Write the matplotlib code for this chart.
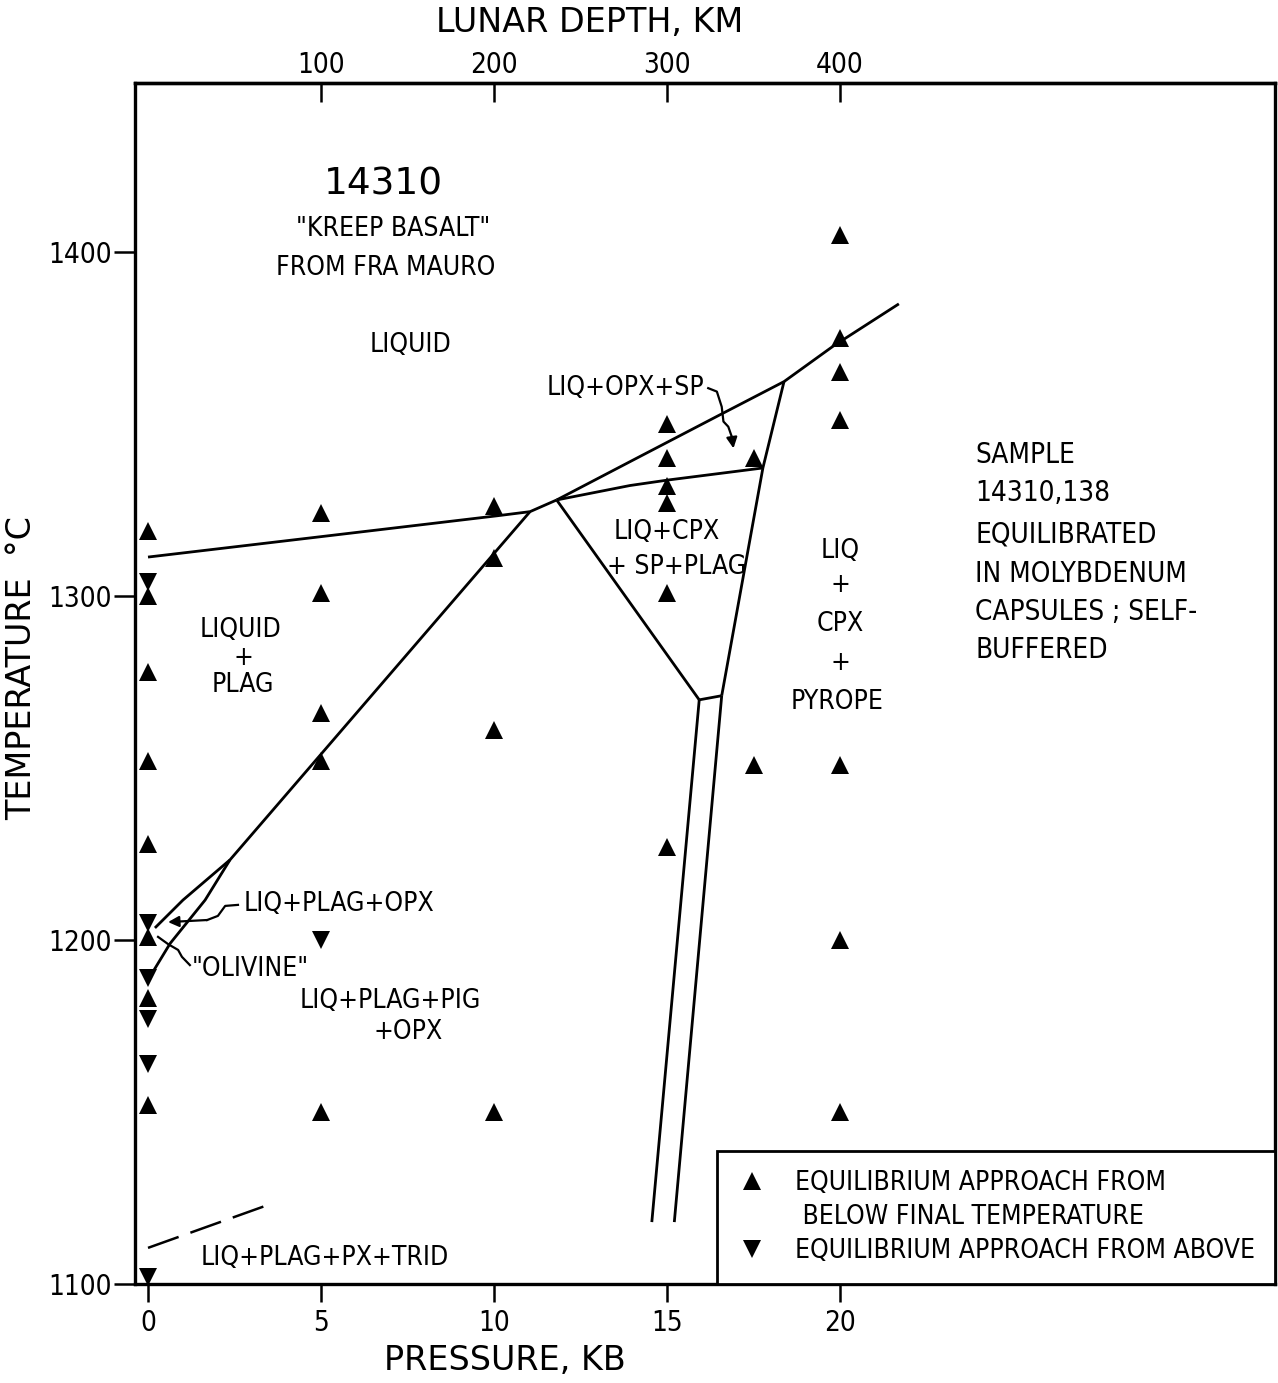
import matplotlib
matplotlib.use("Agg")
import matplotlib.pyplot as plt
from matplotlib import font_manager
from matplotlib.lines import Line2D

# ---------------- data ----------------
pressure_ticks = [0, 5, 10, 15, 20]
temp_ticks = [1100, 1200, 1300, 1400]
depth_ticks = [100, 200, 300, 400]

# runs approached from below final temperature (up triangles)
below_P = [0, 0, 0, 0, 0, 0, 0, 0,
           5, 5, 5, 5, 5,
           10, 10, 10, 10,
           15, 15, 15, 15, 15, 15,
           17.5, 17.5,
           20, 20, 20, 20, 20, 20, 20]
below_T = [1319, 1300, 1278, 1252, 1228, 1201, 1183, 1152,
           1324, 1301, 1266, 1252, 1150,
           1326, 1311, 1261, 1150,
           1350, 1340, 1332, 1327, 1301, 1227,
           1340, 1251,
           1405, 1375, 1365, 1351, 1251, 1200, 1150]

# runs approached from above (down triangles)
above_P = [0, 0, 0, 0, 0, 0, 5]
above_T = [1304, 1205, 1189, 1177, 1164, 1102, 1200]

# phase boundaries (P in kb, T in deg C)
liquidus_P = [0.0, 4.97, 10.09, 11.04, 11.81]
liquidus_T = [1311.3, 1317.2, 1323.3, 1324.5, 1327.9]

upper_P = [11.81, 14.0, 16.5, 18.38, 19.8, 21.7]
upper_T = [1327.9, 1339.4, 1352.5, 1362.3, 1372.6, 1384.9]

inner_P = [11.81, 13.93, 15.03, 17.77]
inner_T = [1327.9, 1332.1, 1333.7, 1337.2]

cpxleft_P = [11.81, 15.93]
cpxleft_T = [1327.9, 1269.8]

cpxbottom_P = [15.93, 16.58]
cpxbottom_T = [1269.8, 1271.0]

cpxright_P = [16.58, 17.77, 18.38]
cpxright_T = [1271.0, 1337.2, 1362.3]

garnetL_P = [15.93, 14.56]
garnetL_T = [1269.8, 1118.0]
garnetR_P = [16.58, 15.21]
garnetR_T = [1271.0, 1118.0]

plag_P = [0.2, 1.01, 2.37, 11.04]
plag_T = [1203.5, 1211.6, 1223.3, 1324.5]

opx_P = [2.37, 1.65, 0.64, 0.0]
opx_T = [1223.3, 1211.6, 1199.0, 1188.4]

trid_P = [0.0, 3.39]
trid_T = [1110.5, 1122.7]

# leader curves for labels
lead1_P = [16.19, 16.44, 16.58, 16.63, 16.77, 16.87]
lead1_T = [1360.4, 1359.4, 1355.0, 1350.7, 1349.2, 1346.3]
lead1_tip = (16.92, 1342.9)

lead2_P = [2.60, 2.23, 2.02, 1.71]
lead2_T = [1210.2, 1209.9, 1207.0, 1205.8]
lead2_tip = (0.58, 1205.2)

lead3_P = [1.21, 0.98, 0.87, 0.58, 0.29]
lead3_T = [1192.7, 1195.1, 1197.1, 1198.8, 1200.9]

# region labels: (text, P, T, ha)
region_labels = [
    ('"KREEP BASALT"', 7.08, 1406.7, 'center'),
    ('FROM FRA MAURO', 6.88, 1395.3, 'center'),
    ('LIQUID', 7.60, 1373.0, 'center'),
    ('LIQ+OPX+SP', 13.79, 1360.5, 'center'),
    ('LIQ+CPX', 15.0, 1318.6, 'center'),
    ('+ SP+PLAG', 15.29, 1308.4, 'center'),
    ('LIQ', 20.0, 1313.1, 'center'),
    ('+', 20.0, 1303.2, 'center'),
    ('CPX', 20.0, 1291.9, 'center'),
    ('+', 20.0, 1280.5, 'center'),
    ('PYROPE', 19.91, 1269.2, 'center'),
    ('LIQUID', 2.66, 1290.1, 'center'),
    ('+', 2.75, 1282.0, 'center'),
    ('PLAG', 2.75, 1274.1, 'center'),
    ('LIQ+PLAG+OPX', 2.75, 1210.5, 'left'),
    ('"OLIVINE"', 1.27, 1191.6, 'left'),
    ('LIQ+PLAG+PIG', 6.99, 1182.3, 'center'),
    ('+OPX', 7.51, 1173.3, 'center'),
    ('LIQ+PLAG+PX+TRID', 5.12, 1107.6, 'center'),
]

sample_lines = ['SAMPLE', '14310,138', 'EQUILIBRATED', 'IN MOLYBDENUM',
                'CAPSULES ; SELF-', 'BUFFERED']
sample_P = 23.9
sample_T = [1341.0, 1329.9, 1318.0, 1306.4, 1295.3, 1284.3]

legend_labels = ['EQUILIBRIUM APPROACH FROM', ' BELOW FINAL TEMPERATURE',
                 'EQUILIBRIUM APPROACH FROM ABOVE']

# ---------------- fonts ----------------
names = {f.name for f in font_manager.fontManager.ttflist}
if 'Liberation Sans Narrow' in names:
    NARROW = dict(family='Liberation Sans Narrow')
else:
    NARROW = dict(family='DejaVu Sans', stretch='condensed')
plt.rcParams['font.family'] = ['DejaVu Sans']

W, H = 1278, 1383
fig = plt.figure(figsize=(W / 100, H / 100), dpi=100)
ax = fig.add_axes([135 / W, 1 - 1284 / H, (1275 - 135) / W, (1284 - 83) / H])
ax.set_xlim(-0.376, 32.57)
ax.set_ylim(1100, 1449.1)

LW = 2.0
C = 'black'
for P, T in [(liquidus_P, liquidus_T), (upper_P, upper_T), (inner_P, inner_T),
             (cpxleft_P, cpxleft_T), (cpxbottom_P, cpxbottom_T),
             (cpxright_P, cpxright_T), (garnetL_P, garnetL_T),
             (garnetR_P, garnetR_T), (plag_P, plag_T), (opx_P, opx_T)]:
    ax.plot(P, T, color=C, lw=LW, solid_capstyle='butt', zorder=2)
ax.plot(trid_P, trid_T, color=C, lw=1.8, dashes=(13, 5), zorder=2)

# leaders
ax.plot(lead1_P, lead1_T, color=C, lw=1.6, zorder=2)
ax.annotate('', xy=lead1_tip, xytext=(lead1_P[-1], lead1_T[-1]),
            arrowprops=dict(arrowstyle='-|>', color=C, lw=1.6,
                            mutation_scale=16, shrinkA=0, shrinkB=0))
ax.plot(lead2_P, lead2_T, color=C, lw=1.6, zorder=2)
ax.annotate('', xy=lead2_tip, xytext=(lead2_P[-1], lead2_T[-1]),
            arrowprops=dict(arrowstyle='-|>', color=C, lw=1.6,
                            mutation_scale=16, shrinkA=0, shrinkB=0))
ax.plot(lead3_P, lead3_T, color=C, lw=1.6, zorder=2)

# data points
MS = 13
ax.plot(below_P, below_T, ls='none', marker='^', ms=MS, color=C, mew=0, zorder=3)
ax.plot(above_P, above_T, ls='none', marker='v', ms=MS, color=C, mew=0, zorder=3)

# labels
ax.text(6.79, 1419.5, '14310', fontsize=27, ha='center', va='center',
        family='DejaVu Sans')
for txt, p, t, ha in region_labels:
    ax.text(p, t, txt, fontsize=19, ha=ha, va='center', **NARROW)
for txt, t in zip(sample_lines, sample_T):
    ax.text(sample_P, t, txt, fontsize=20, ha='left', va='center', **NARROW)

# axes styling
for s in ax.spines.values():
    s.set_linewidth(2.4)
ax.set_xticks(pressure_ticks)
ax.set_yticks(temp_ticks)
ax.tick_params(axis='x', direction='out', length=13, width=1.8, pad=5)
ax.tick_params(axis='y', direction='out', length=15, width=1.8, pad=2)
for lab in ax.get_xticklabels() + ax.get_yticklabels():
    lab.set_fontproperties(font_manager.FontProperties(size=20, **NARROW))

ax.set_xlabel('PRESSURE, KB', fontsize=24, ha='center', va='center')
ax.xaxis.set_label_coords(505 / W, 1 - 1360 / H, transform=fig.transFigure)
ax.set_ylabel('TEMPERATURE  °C', fontsize=24, ha='center', va='center',
              rotation=90)
ax.yaxis.set_label_coords(22 / W, 1 - 668 / H, transform=fig.transFigure)

secax = ax.secondary_xaxis('top', functions=(lambda p: p * 20, lambda d: d / 20))
secax.set_xticks(depth_ticks)
secax.tick_params(axis='x', direction='in', length=14, width=1.8, pad=3)
for lab in secax.get_xticklabels():
    lab.set_fontproperties(font_manager.FontProperties(size=20, **NARROW))
secax.spines['top'].set_linewidth(2.4)
secax.set_xlabel('LUNAR DEPTH, KM', fontsize=24, ha='center', va='center')
secax.xaxis.set_label_coords(590 / W, 1 - 22 / H, transform=fig.transFigure)

# legend
h_up = Line2D([], [], ls='none', marker='^', ms=MS, color=C, mew=0)
h_blank = Line2D([], [], ls='none', marker=None)
h_dn = Line2D([], [], ls='none', marker='v', ms=MS, color=C, mew=0)
leg = ax.legend([h_up, h_blank, h_dn], legend_labels, loc='lower right',
                bbox_to_anchor=(1, 0), borderaxespad=0, frameon=True,
                fancybox=False, edgecolor=C, framealpha=1,
                prop=font_manager.FontProperties(size=19, **NARROW),
                handlelength=1.1, handletextpad=1.1, borderpad=0.75,
                labelspacing=0.3)
leg.get_frame().set_linewidth(2.0)

fig.savefig('out.png', dpi=100)
